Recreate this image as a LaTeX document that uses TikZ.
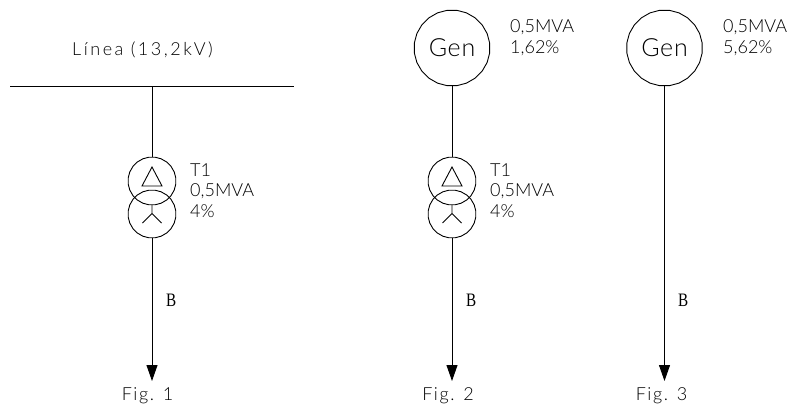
\documentclass[tikz,border=0pt]{standalone}
\usepackage{fontspec}
\setmainfont{Lato}[UprightFont=* Light]
\newfontfamily\bfont[FakeStretch=0.8]{Liberation Serif}
\usetikzlibrary{arrows.meta,shapes.geometric}
\definecolor{inkc}{HTML}{000000}
\tikzset{
  ln/.style={draw=inkc,line width=0.9pt},
  flow/.style={ln,-{Triangle[width=11pt,length=16pt]}},
  winding/.style={ln,regular polygon,regular polygon sides=24,minimum size=48pt,inner sep=0pt,outer sep=0pt},
  gencirc/.style={ln,regular polygon,regular polygon sides=24,minimum size=76pt,inner sep=0pt,outer sep=0pt,font=\fontsize{25}{25}\selectfont\addfontfeature{LetterSpace=3}},
  lab/.style={anchor=west,inner sep=0pt,align=left,text=inkc,font=\fontsize{18}{20.8}\selectfont},
  linelab/.style={lab,font=\fontsize{18}{20.8}\selectfont\addfontfeature{LetterSpace=14}},
  blab/.style={anchor=west,inner sep=0pt,text=inkc,font=\fontsize{19}{19}\bfont},
  figcap/.style={anchor=center,inner sep=0pt,text=inkc,font=\fontsize{18}{20}\selectfont\addfontfeature{LetterSpace=9}},
}
\begin{document}
\begin{tikzpicture}[x=1pt,y=-1pt]
\useasboundingbox (0,0) rectangle (790,407);
% Fig 1
\coordinate (busL) at (10,86);
\coordinate (busR) at (294,86);
\coordinate (busT) at (152,86);
\draw[ln] (busL) -- (busR);
\node[linelab] (linea) at (72,50) {Línea (13,2kV)};
\node[winding] (d1) at (152,181) {};
\node[winding] (y1) at (152,214) {};
\draw[ln] (busT) -- (d1.north);
\coordinate (a1) at (152,167); \coordinate (a1l) at (142,186); \coordinate (a1r) at (162,186);
\draw[ln] (a1) -- (a1l) -- (a1r) -- cycle;
\coordinate (s1) at (152,205); \coordinate (j1) at (152,213.5); \coordinate (j1l) at (142.5,223); \coordinate (j1r) at (161.5,223);
\draw[ln] (s1) -- (j1) (j1l) -- (j1) -- (j1r);
\node[lab] (t1) at (190,190.5) {T1\\0,5MVA\\4\%};
\coordinate (tip1) at (152,381);
\draw[flow] (y1.south) -- (tip1);
\node[blab] (b1) at (166,300) {B};
\node[figcap] (f1) at (147.5,396) {Fig. 1};
% Fig 2
\node[gencirc] (g2) at (452,48) {Gen};
\node[lab] (g2l) at (510,37.5) {0,5MVA\\1,62\%};
\node[winding] (d2) at (452,181) {};
\node[winding] (y2) at (452,214) {};
\draw[ln] (g2.south) -- (d2.north);
\coordinate (a2) at (452,167); \coordinate (a2l) at (442,186); \coordinate (a2r) at (462,186);
\draw[ln] (a2) -- (a2l) -- (a2r) -- cycle;
\coordinate (s2) at (452,205); \coordinate (j2) at (452,213.5); \coordinate (j2l) at (442.5,223); \coordinate (j2r) at (461.5,223);
\draw[ln] (s2) -- (j2) (j2l) -- (j2) -- (j2r);
\node[lab] (t2) at (490,190.5) {T1\\0,5MVA\\4\%};
\coordinate (tip2) at (452,381);
\draw[flow] (y2.south) -- (tip2);
\node[blab] (b2) at (466,300) {B};
\node[figcap] (f2) at (448,396) {Fig. 2};
% Fig 3
\node[gencirc] (g3) at (664.5,48) {Gen};
\node[lab] (g3l) at (723,37.5) {0,5MVA\\5,62\%};
\coordinate (tip3) at (664.5,381);
\draw[flow] (g3.south) -- (tip3);
\node[blab] (b3) at (678,300) {B};
\node[figcap] (f3) at (661.5,396) {Fig. 3};
\end{tikzpicture}
\end{document}
